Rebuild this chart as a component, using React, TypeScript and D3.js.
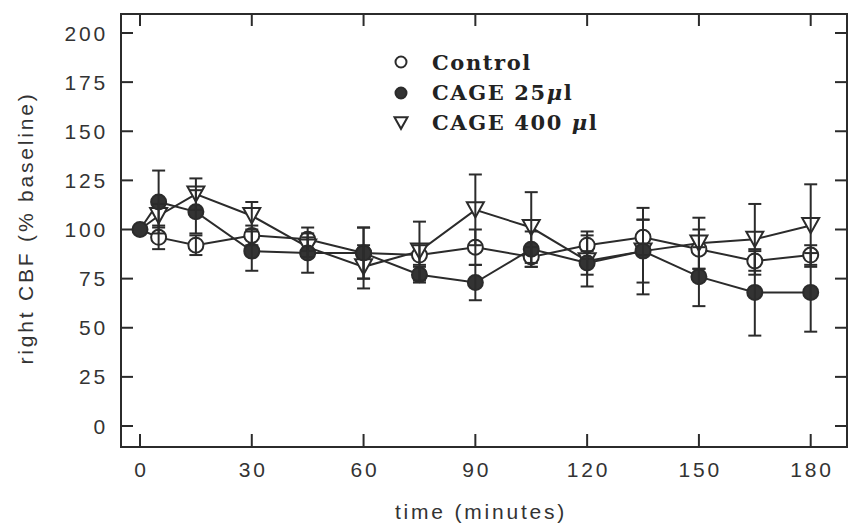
import React from "react";
import * as d3 from "d3";

const times = [0, 5, 15, 30, 45, 60, 75, 90, 105, 120, 135, 150, 165, 180];
const control = [100, 96, 92, 97, 95, 88, 87, 91, 86, 92, 96, 90, 84, 87];
const controlErr = [0, 6, 5, 5, 6, 13, 5, 9, 5, 7, 9, 10, 5, 5];
const cage25 = [100, 114, 109, 89, 88, 88, 77, 73, 90, 83, 89, 76, 68, 68];
const cage25Err = [0, 16, 11, 10, 10, 13, 4, 9, 9, 6, 22, 15, 22, 20];
const cage400 = [100, 107, 118, 107, 91, 81, 89, 110, 101, 84, 89, 93, 95, 102];
const cage400Err = [0, 6, 8, 7, 5, 11, 15, 18, 18, 13, 16, 13, 18, 21];

const xTicks = [0, 30, 60, 90, 120, 150, 180];
const yTicks = [0, 25, 50, 75, 100, 125, 150, 175, 200];

const legendLabels = ["Control", "CAGE 25", "CAGE 400 "];

const INK = "#2b2b2b";

type Shape = "open" | "filled" | "tri";

export default function App() {
  const W = 850;
  const H = 531;
  const frame = { left: 121, right: 847, top: 14, bottom: 447 };
  const x = d3.scaleLinear().domain([0, 180]).range([140, 810.7]);
  const y = d3.scaleLinear().domain([0, 200]).range([426, 33]);

  const series: { vals: number[]; errs: number[]; shape: Shape }[] = [
    { vals: control, errs: controlErr, shape: "open" },
    { vals: cage400, errs: cage400Err, shape: "tri" },
    { vals: cage25, errs: cage25Err, shape: "filled" },
  ];

  const line = d3
    .line<number>()
    .x((_, i) => x(times[i]))
    .y((d) => y(d));

  const triPath = (cx: number, cy: number, w: number) => {
    const h = w * 0.9;
    return `M${cx - w / 2},${cy - h / 2}L${cx + w / 2},${cy - h / 2}L${cx},${cy + h / 2}Z`;
  };

  const marker = (shape: Shape, cx: number, cy: number, key: string, small = false) => {
    const r = small ? 5.5 : 7.5;
    if (shape === "tri") {
      return (
        <path key={key} d={triPath(cx, cy, small ? 13 : 17)} fill="white" stroke={INK} strokeWidth={2} />
      );
    }
    return (
      <circle
        key={key}
        cx={cx}
        cy={cy}
        r={r}
        fill={shape === "filled" ? "#333" : "white"}
        stroke={INK}
        strokeWidth={2}
      />
    );
  };

  const axisFont = {
    fontFamily: "'Liberation Sans', Arial, sans-serif",
    fontSize: 21,
    letterSpacing: 2.8,
    fill: "#333",
  } as const;

  const legendFont = {
    fontFamily: "'DejaVu Serif', serif",
    fontSize: 21,
    fontWeight: 600,
    letterSpacing: 1.6,
    fill: "#222",
  } as const;

  return (
    <svg
      width={W}
      height={H}
      style={{ position: "absolute", left: 0, top: 0, display: "block", background: "white" }}
    >
      {/* frame */}
      <rect
        x={frame.left}
        y={frame.top}
        width={frame.right - frame.left}
        height={frame.bottom - frame.top}
        fill="none"
        stroke={INK}
        strokeWidth={2}
      />
      {/* x ticks */}
      {xTicks.map((t) => (
        <g key={"xt" + t}>
          <line x1={x(t)} x2={x(t)} y1={frame.bottom} y2={frame.bottom - 13} stroke={INK} strokeWidth={2} />
          <line x1={x(t)} x2={x(t)} y1={frame.top} y2={frame.top + 12} stroke={INK} strokeWidth={2} />
          <text x={x(t) + 1.4} y={477} textAnchor="middle" {...axisFont}>
            {t}
          </text>
        </g>
      ))}
      {/* y ticks */}
      {yTicks.map((t) => (
        <g key={"yt" + t}>
          <line x1={frame.left} x2={frame.left + 12} y1={y(t)} y2={y(t)} stroke={INK} strokeWidth={2} />
          <line x1={frame.right} x2={frame.right - 12} y1={y(t)} y2={y(t)} stroke={INK} strokeWidth={2} />
          <text x={108} y={y(t)} dy="0.36em" textAnchor="end" {...axisFont}>
            {t}
          </text>
        </g>
      ))}
      {/* axis titles */}
      <text x={481} y={519} textAnchor="middle" {...axisFont}>
        time (minutes)
      </text>
      <text transform={`translate(33,228) rotate(-90)`} textAnchor="middle" {...axisFont}>
        right CBF (% baseline)
      </text>

      {/* lines */}
      {series.map((s, si) => (
        <path key={"l" + si} d={line(s.vals) || ""} fill="none" stroke={INK} strokeWidth={2} />
      ))}
      {/* markers (open markers at the shared 0-min baseline are hidden under the filled one) */}
      {series.map((s, si) =>
        s.vals.map((v, i) =>
          i === 0 && s.shape !== "filled" ? null : marker(s.shape, x(times[i]), y(v), `m${si}-${i}`)
        )
      )}
      {/* error bars */}
      {series.map((s, si) =>
        s.vals.map((v, i) => {
          const e = s.errs[i];
          if (!e) return null;
          const cx = x(times[i]);
          const y1 = y(v + e);
          const y2 = y(v - e);
          return (
            <g key={`e${si}-${i}`} stroke={INK} strokeWidth={2}>
              <line x1={cx} x2={cx} y1={y1} y2={y2} />
              <line x1={cx - 6.5} x2={cx + 6.5} y1={y1} y2={y1} />
              <line x1={cx - 6.5} x2={cx + 6.5} y1={y2} y2={y2} />
            </g>
          );
        })
      )}

      {/* legend */}
      {marker("open", 401, 62, "lg0", true)}
      {marker("filled", 401, 93, "lg1", true)}
      {marker("tri", 401, 123, "lg2", true)}
      <text x={432} y={70} {...legendFont}>
        {legendLabels[0]}
      </text>
      <text x={432} y={100} {...legendFont}>
        {legendLabels[1]}
        <tspan fontStyle="italic">μ</tspan>l
      </text>
      <text x={432} y={130} {...legendFont}>
        {legendLabels[2]}
        <tspan fontStyle="italic">μ</tspan>l
      </text>
    </svg>
  );
}
